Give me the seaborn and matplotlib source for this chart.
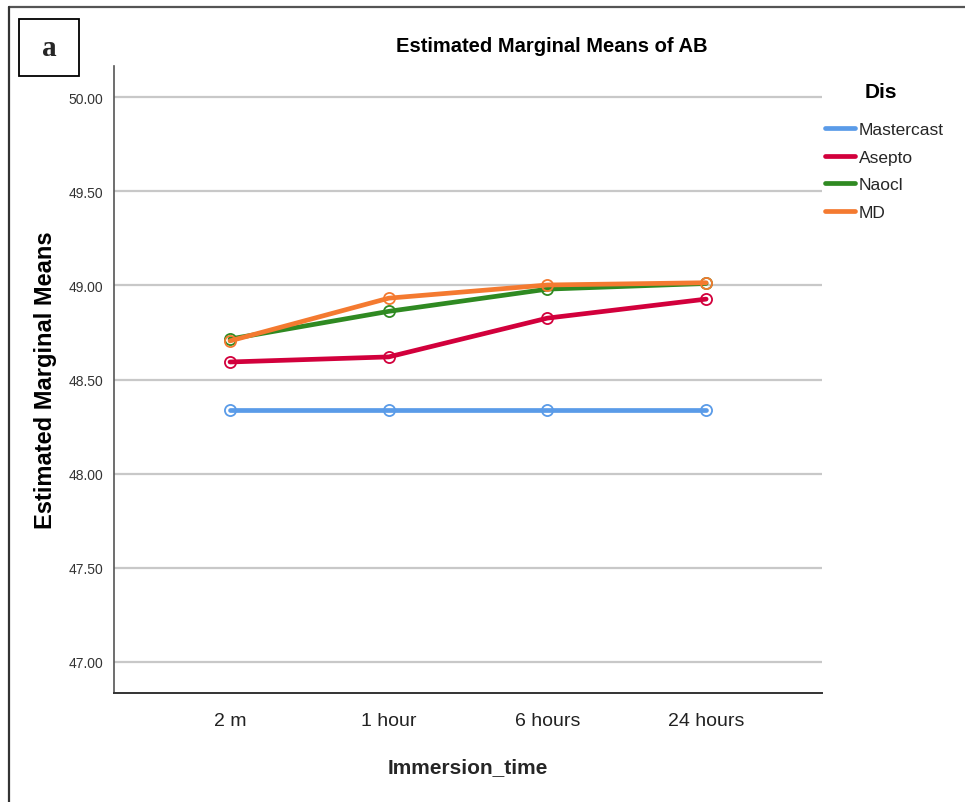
import matplotlib
matplotlib.use("Agg")
import matplotlib.pyplot as plt
from matplotlib.lines import Line2D
from matplotlib.patches import Rectangle
import seaborn as sns
import pandas as pd

times = ["2 m", "1 hour", "6 hours", "24 hours"]
groups = ["Mastercast", "Asepto", "Naocl", "MD"]
mastercast = [48.338, 48.338, 48.338, 48.338]
asepto = [48.593, 48.620, 48.826, 48.927]
naocl = [48.715, 48.862, 48.980, 49.010]
md = [48.705, 48.932, 49.002, 49.014]
yticks = [47.00, 47.50, 48.00, 48.50, 49.00, 49.50, 50.00]

colors = {"Mastercast": "#5A9BE8", "Asepto": "#D2003C", "Naocl": "#2F8A22", "MD": "#F47A30"}

rows = []
for g, vals in zip(groups, [mastercast, asepto, naocl, md]):
    for i, v in enumerate(vals):
        rows.append({"Immersion_time": i, "Dis": g, "Mean": v})
df = pd.DataFrame(rows)

sns.set_theme(style="white")
narrow = ["Liberation Sans Narrow", "Liberation Sans", "DejaVu Sans"]
plt.rcParams["font.family"] = ["Liberation Sans", "DejaVu Sans"]

fig = plt.figure(figsize=(9.65, 8.03), dpi=100)
ax = fig.add_axes([114/965, 109/803, 708/965, 627/803])

for g in groups:
    sub = df[df["Dis"] == g]
    sns.lineplot(data=sub, x="Immersion_time", y="Mean", color=colors[g], ax=ax,
                 linewidth=3.4, marker="o", markersize=8, markerfacecolor="none",
                 markeredgecolor=colors[g], markeredgewidth=1.3, legend=False)

ax.set_xlim(-0.731, 3.73)
ax.set_ylim(46.835, 50.165)
ax.set_yticks(yticks)
ax.set_yticklabels([f"{t:.2f}" for t in yticks], family=narrow, fontsize=10, color="#333333")
ax.set_xticks(range(len(times)))
ax.set_xticklabels(times, family=narrow, fontsize=14, color="#222222")
ax.tick_params(axis="both", length=0, pad=8)
ax.tick_params(axis="x", pad=14)
ax.yaxis.grid(True, color="#C8C8C8", linewidth=1.6)
ax.set_axisbelow(True)
for s in ["top", "right"]:
    ax.spines[s].set_visible(False)
ax.spines["left"].set_color("#555555")
ax.spines["bottom"].set_color("#333333")
ax.spines["left"].set_linewidth(1.2)
ax.spines["bottom"].set_linewidth(1.4)

ax.set_xlabel("Immersion_time", family=narrow, fontsize=15, fontweight="bold", labelpad=20)
ax.set_ylabel("Estimated Marginal Means", fontsize=17, fontweight="bold", color="black")
ax.yaxis.set_label_coords(-0.08, 0.5)
fig.text(552/965, 1 - 47/803, "Estimated Marginal Means of AB", family=narrow,
         fontsize=14.5, fontweight="bold", ha="center", va="center", color="black")

handles = [Line2D([0], [0], color=colors[g], linewidth=3.4) for g in groups]
leg = fig.legend(handles, groups, loc="upper left", bbox_to_anchor=(825/965, 1 - 123/803),
                 frameon=False, handlelength=1.75, handletextpad=0.2, borderpad=0,
                 borderaxespad=0, labelspacing=0.72, prop={"family": narrow, "size": 12.5})
fig.text(881/965, 1 - 92/803, "Dis", family=narrow, fontsize=15, fontweight="bold",
         ha="center", va="center", color="black")

# outer frame (top and left)
fig.add_artist(Line2D([9/965, 1], [1 - 8/803, 1 - 8/803], color="#555555", linewidth=1.6))
fig.add_artist(Line2D([9/965, 9/965], [0, 1 - 8/803], color="#333333", linewidth=1.6))
# panel label box
fig.add_artist(Rectangle((19/965, 1 - 77/803), 60/965, 57/803, fill=False,
                         edgecolor="black", linewidth=1.3, transform=fig.transFigure))
fig.text(49/965, 1 - 49/803, "a", family=["Liberation Serif", "DejaVu Serif"],
         fontsize=21, fontweight="bold", ha="center", va="center")

fig.savefig("out.png", dpi=100)
